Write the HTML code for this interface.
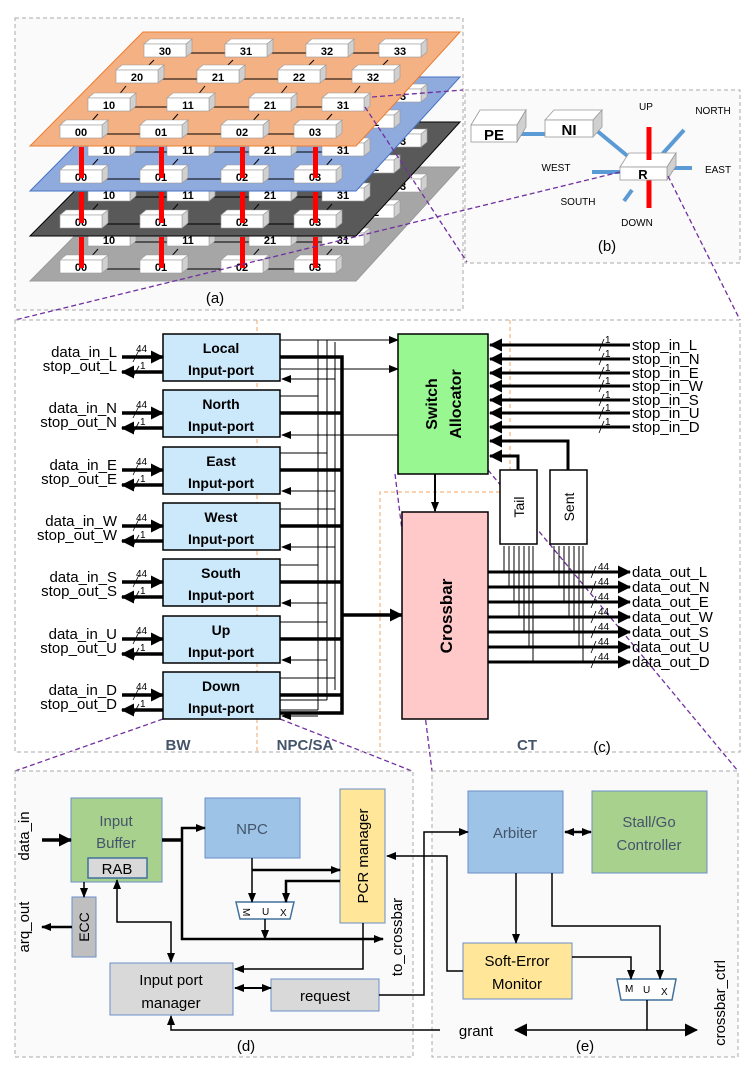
<!DOCTYPE html>
<html><head><meta charset="utf-8"><style>
html,body{margin:0;padding:0;background:#fff}
svg{display:block}
text{font-family:"Liberation Sans",sans-serif}
.n{font-size:11px;font-weight:bold;text-anchor:middle}
.l{font-size:15px;text-anchor:end}
.r{font-size:15px}
.s{font-size:10px}
.pt{font-size:14px;font-weight:bold;text-anchor:middle}
.g{fill:#44546a;font-size:15px;text-anchor:middle}
</style></head><body>
<svg width="747" height="1066" viewBox="0 0 747 1066" xmlns="http://www.w3.org/2000/svg">
<defs>
<marker id="a" markerUnits="userSpaceOnUse" markerWidth="10" markerHeight="10" refX="9" refY="5" orient="auto"><path d="M0,1 L10,5 L0,9 z"/></marker>
<marker id="A" markerUnits="userSpaceOnUse" markerWidth="13" markerHeight="13" refX="12" refY="6.5" orient="auto"><path d="M0,0 L13,6.5 L0,13 z"/></marker>
<marker id="as" markerUnits="userSpaceOnUse" markerWidth="10" markerHeight="10" refX="1" refY="5" orient="auto"><path d="M10,1 L0,5 L10,9 z"/></marker>
<g id="nd"><polygon points="0,5 6,0 48,0 42,5" fill="#fff" stroke="#999" stroke-width="0.6"/><polygon points="42,5 48,0 48,13 42,18" fill="#d0d0d0" stroke="#999" stroke-width="0.6"/><rect x="0" y="5" width="42" height="13" fill="#fff" stroke="#999" stroke-width="0.6"/></g>
<g id="ln" stroke="#000" stroke-width="1">
<line x1="102" y1="134" x2="140" y2="134"/><line x1="182" y1="134" x2="221" y2="134"/><line x1="263" y1="134" x2="294" y2="134"/>
<line x1="130" y1="107" x2="167" y2="107"/><line x1="209" y1="107" x2="249" y2="107"/><line x1="291" y1="107" x2="322" y2="107"/>
<line x1="158" y1="79" x2="197" y2="79"/><line x1="239" y1="79" x2="278" y2="79"/><line x1="320" y1="79" x2="352" y2="79"/>
<line x1="186" y1="53" x2="225" y2="53"/><line x1="267" y1="53" x2="306" y2="53"/><line x1="348" y1="53" x2="379" y2="53"/>
<line x1="90" y1="123" x2="98" y2="114"/><line x1="170" y1="123" x2="178" y2="114"/><line x1="251" y1="123" x2="259" y2="114"/><line x1="324" y1="123" x2="332" y2="114"/>
<line x1="118" y1="96" x2="126" y2="86"/><line x1="197" y1="96" x2="205" y2="86"/><line x1="279" y1="96" x2="287" y2="86"/><line x1="352" y1="96" x2="360" y2="86"/>
<line x1="146" y1="68" x2="154" y2="60"/><line x1="225" y1="68" x2="233" y2="60"/><line x1="306" y1="68" x2="314" y2="60"/><line x1="380" y1="68" x2="388" y2="60"/>
</g>
<g id="nodes">
<use href="#nd" x="144" y="39"/><use href="#nd" x="225" y="39"/><use href="#nd" x="306" y="39"/><use href="#nd" x="379" y="39"/>
<use href="#nd" x="116" y="65"/><use href="#nd" x="197" y="65"/><use href="#nd" x="278" y="65"/><use href="#nd" x="352" y="65"/>
<use href="#nd" x="88" y="93"/><use href="#nd" x="167" y="93"/><use href="#nd" x="249" y="93"/><use href="#nd" x="322" y="93"/>
<use href="#nd" x="60" y="120"/><use href="#nd" x="140" y="120"/><use href="#nd" x="221" y="120"/><use href="#nd" x="294" y="120"/>
</g>
</defs>

<rect x="15" y="18" width="448" height="292" fill="#fafafa" stroke="#aaa" stroke-dasharray="4,3"/>
<g transform="translate(0,135)"><polygon points="143,32 460,32 356,146 30,146" fill="#a6a6a6" stroke="#999"/><use href="#ln"/><use href="#nodes"/>
<text class="n" x="81" y="136">00</text><text class="n" x="161" y="136">01</text><text class="n" x="242" y="136">02</text><text class="n" x="315" y="136">03</text>
<text class="n" x="109" y="109">10</text><text class="n" x="188" y="109">11</text><text class="n" x="270" y="109">21</text><text class="n" x="343" y="109">31</text>
<text class="n" x="373" y="81">32</text><text class="n" x="400" y="55">33</text></g>
<g fill="#f00"><rect x="79" y="237" width="5" height="31"/><rect x="159" y="237" width="5" height="31"/><rect x="240" y="237" width="5" height="31"/><rect x="313" y="237" width="5" height="31"/></g>
<g transform="translate(0,90)"><polygon points="143,32 460,32 356,146 30,146" fill="#595959" stroke="#000"/><use href="#ln"/><use href="#nodes"/>
<text class="n" x="81" y="136">00</text><text class="n" x="161" y="136">01</text><text class="n" x="242" y="136">02</text><text class="n" x="315" y="136">03</text>
<text class="n" x="109" y="109">10</text><text class="n" x="188" y="109">11</text><text class="n" x="270" y="109">21</text><text class="n" x="343" y="109">31</text>
<text class="n" x="373" y="81">32</text><text class="n" x="400" y="55">33</text></g>
<g fill="#f00"><rect x="79" y="192" width="5" height="31"/><rect x="159" y="192" width="5" height="31"/><rect x="240" y="192" width="5" height="31"/><rect x="313" y="192" width="5" height="31"/></g>
<g transform="translate(0,45)"><polygon points="143,32 460,32 356,146 30,146" fill="#8faadc" stroke="#4472c4"/><use href="#ln"/><use href="#nodes"/>
<text class="n" x="81" y="136">00</text><text class="n" x="161" y="136">01</text><text class="n" x="242" y="136">02</text><text class="n" x="315" y="136">03</text>
<text class="n" x="109" y="109">10</text><text class="n" x="188" y="109">11</text><text class="n" x="270" y="109">21</text><text class="n" x="343" y="109">31</text>
<text class="n" x="373" y="81">32</text><text class="n" x="400" y="55">33</text></g>
<g fill="#f00"><rect x="79" y="147" width="5" height="31"/><rect x="159" y="147" width="5" height="31"/><rect x="240" y="147" width="5" height="31"/><rect x="313" y="147" width="5" height="31"/></g>
<g><polygon points="143,32 460,32 356,146 30,146" fill="#f4b183" stroke="#ed7d31"/><use href="#ln"/><use href="#nodes"/>
<text class="n" x="81" y="136">00</text><text class="n" x="161" y="136">01</text><text class="n" x="242" y="136">02</text><text class="n" x="315" y="136">03</text>
<text class="n" x="109" y="109">10</text><text class="n" x="188" y="109">11</text><text class="n" x="270" y="109">21</text><text class="n" x="343" y="109">31</text>
<text class="n" x="137" y="81">20</text><text class="n" x="218" y="81">21</text><text class="n" x="299" y="81">22</text><text class="n" x="373" y="81">32</text>
<text class="n" x="165" y="55">30</text><text class="n" x="246" y="55">31</text><text class="n" x="327" y="55">32</text><text class="n" x="400" y="55">33</text></g>
<text x="215" y="303" font-size="15" text-anchor="middle">(a)</text>

<rect x="465" y="90" width="275" height="173" fill="#fafafa" stroke="#aaa" stroke-dasharray="4,3"/>
<g stroke="#5b9bd5" stroke-width="4"><line x1="518" y1="134" x2="545" y2="134"/><line x1="596" y1="130" x2="630" y2="158"/><line x1="657" y1="160" x2="684" y2="130"/><line x1="632" y1="190" x2="624" y2="201"/><line x1="592" y1="172" x2="622" y2="172"/><line x1="667" y1="168" x2="692" y2="168"/></g>
<line x1="649" y1="127" x2="649" y2="208" stroke="#f00" stroke-width="5"/>
<g stroke="#999" stroke-width="0.8">
<polygon points="471,125 480,110 526,110 517,125" fill="#fff"/><polygon points="517,125 526,110 526,127 517,142" fill="#d0d0d0"/><rect x="471" y="125" width="46" height="17" fill="#fff"/>
<polygon points="545,120 554,110 602,110 593,120" fill="#fff"/><polygon points="593,120 602,110 602,127 593,137" fill="#d0d0d0"/><rect x="545" y="120" width="48" height="17" fill="#fff"/>
<polygon points="620,167 629,153 676,153 667,167" fill="#fff"/><polygon points="667,167 676,153 676,166 667,180" fill="#d0d0d0"/><rect x="620" y="167" width="47" height="13" fill="#fff"/>
</g>
<line x1="649" y1="152" x2="649" y2="160" stroke="#f00" stroke-width="5"/>
<text x="494" y="140" font-size="15" font-weight="bold" text-anchor="middle">PE</text>
<text x="569" y="135" font-size="15" font-weight="bold" text-anchor="middle">NI</text>
<text x="643" y="179" font-size="13" font-weight="bold" text-anchor="middle">R</text>
<g font-size="10" text-anchor="middle"><text x="646" y="110">UP</text><text x="713" y="114">NORTH</text><text x="556" y="171">WEST</text><text x="718" y="173">EAST</text><text x="578" y="205">SOUTH</text><text x="637" y="226">DOWN</text></g>
<text x="607" y="251" font-size="15" text-anchor="middle">(b)</text>

<g stroke="#7030a0" stroke-width="1.3" stroke-dasharray="5,3" fill="none">
<line x1="372" y1="97" x2="463" y2="90"/><line x1="365" y1="107" x2="467" y2="262"/>
<line x1="620" y1="172" x2="15" y2="320"/><line x1="668" y1="176" x2="740" y2="320"/>
<line x1="163" y1="719" x2="15" y2="771"/><line x1="280" y1="719" x2="412" y2="771"/>
<line x1="395" y1="474" x2="432" y2="771"/><line x1="488" y1="470" x2="738" y2="771"/>
</g>

<rect x="15" y="320" width="725" height="432" fill="none" stroke="#aaa" stroke-dasharray="4,3"/>
<g stroke="#f4a460" stroke-width="1" stroke-dasharray="4,3" fill="none">
<line x1="257" y1="320" x2="257" y2="752"/><polyline points="510,320 510,492 380,492 380,752"/></g>
<g stroke="#000" stroke-width="1" fill="none">
<line x1="318" y1="340" x2="318" y2="710"/><line x1="327" y1="340" x2="327" y2="700"/><line x1="335" y1="342" x2="335" y2="690"/>
<line x1="280" y1="340" x2="398" y2="340" marker-end="url(#a)"/>
<line x1="280" y1="369" x2="398" y2="369" marker-end="url(#a)"/>
<line x1="398" y1="435" x2="282" y2="435" marker-end="url(#a)"/>
<line x1="335" y1="379" x2="282" y2="379" marker-end="url(#a)"/>
<line x1="335" y1="491" x2="282" y2="491" marker-end="url(#a)"/><line x1="335" y1="547" x2="282" y2="547" marker-end="url(#a)"/>
<line x1="327" y1="603" x2="282" y2="603" marker-end="url(#a)"/><line x1="327" y1="660" x2="282" y2="660" marker-end="url(#a)"/>
<line x1="318" y1="716" x2="282" y2="716" marker-end="url(#a)"/>
<line x1="280" y1="396" x2="318" y2="396"/><line x1="280" y1="453" x2="327" y2="453"/><line x1="280" y1="509" x2="335" y2="509"/>
<line x1="280" y1="565" x2="318" y2="565"/><line x1="280" y1="622" x2="327" y2="622"/><line x1="280" y1="678" x2="335" y2="678"/>
<line x1="280" y1="700" x2="327" y2="700"/><line x1="280" y1="710" x2="318" y2="710"/>
</g>
<g stroke="#000" stroke-width="3.5" fill="none">
<polyline points="280,357 342,357 342,713 280,713"/>
<line x1="280" y1="413" x2="342" y2="413"/><line x1="280" y1="470" x2="342" y2="470"/><line x1="280" y1="526" x2="342" y2="526"/>
<line x1="280" y1="582" x2="342" y2="582"/><line x1="280" y1="639" x2="342" y2="639"/><line x1="280" y1="695" x2="342" y2="695"/>
<line x1="342" y1="615" x2="402" y2="615" marker-end="url(#A)"/>
</g>
<g stroke="#000" stroke-width="1.5" fill="#cce8fb">
<rect x="163" y="334" width="117" height="47"/><rect x="163" y="390" width="117" height="47"/><rect x="163" y="447" width="117" height="47"/><rect x="163" y="503" width="117" height="47"/><rect x="163" y="559" width="117" height="47"/><rect x="163" y="616" width="117" height="47"/><rect x="163" y="672" width="117" height="47"/></g>
<text x="221" y="353" class="pt">Local</text><text x="221" y="375" class="pt">Input-port</text>
<text x="221" y="409" class="pt">North</text><text x="221" y="431" class="pt">Input-port</text>
<text x="221" y="466" class="pt">East</text><text x="221" y="488" class="pt">Input-port</text>
<text x="221" y="522" class="pt">West</text><text x="221" y="544" class="pt">Input-port</text>
<text x="221" y="578" class="pt">South</text><text x="221" y="600" class="pt">Input-port</text>
<text x="221" y="635" class="pt">Up</text><text x="221" y="657" class="pt">Input-port</text>
<text x="221" y="691" class="pt">Down</text><text x="221" y="713" class="pt">Input-port</text>
<g stroke="#000" fill="none" stroke-width="3.5">
<line x1="122" y1="357" x2="163" y2="357" marker-end="url(#A)"/><line x1="163" y1="372" x2="122" y2="372" marker-end="url(#A)"/>
<line x1="122" y1="413" x2="163" y2="413" marker-end="url(#A)"/><line x1="163" y1="428" x2="122" y2="428" marker-end="url(#A)"/>
<line x1="122" y1="470" x2="163" y2="470" marker-end="url(#A)"/><line x1="163" y1="485" x2="122" y2="485" marker-end="url(#A)"/>
<line x1="122" y1="526" x2="163" y2="526" marker-end="url(#A)"/><line x1="163" y1="541" x2="122" y2="541" marker-end="url(#A)"/>
<line x1="122" y1="582" x2="163" y2="582" marker-end="url(#A)"/><line x1="163" y1="597" x2="122" y2="597" marker-end="url(#A)"/>
<line x1="122" y1="639" x2="163" y2="639" marker-end="url(#A)"/><line x1="163" y1="654" x2="122" y2="654" marker-end="url(#A)"/>
<line x1="122" y1="695" x2="163" y2="695" marker-end="url(#A)"/><line x1="163" y1="710" x2="122" y2="710" marker-end="url(#A)"/>
</g>
<g stroke="#000" stroke-width="0.8">
<line x1="133" y1="362" x2="139" y2="350"/><line x1="133" y1="377" x2="139" y2="366"/>
<line x1="133" y1="418" x2="139" y2="406"/><line x1="133" y1="433" x2="139" y2="422"/>
<line x1="133" y1="475" x2="139" y2="463"/><line x1="133" y1="490" x2="139" y2="479"/>
<line x1="133" y1="531" x2="139" y2="519"/><line x1="133" y1="546" x2="139" y2="535"/>
<line x1="133" y1="587" x2="139" y2="575"/><line x1="133" y1="602" x2="139" y2="591"/>
<line x1="133" y1="644" x2="139" y2="632"/><line x1="133" y1="659" x2="139" y2="648"/>
<line x1="133" y1="700" x2="139" y2="688"/><line x1="133" y1="715" x2="139" y2="704"/>
<line x1="599" y1="351" x2="604" y2="339"/><line x1="599" y1="365" x2="604" y2="353"/><line x1="599" y1="379" x2="604" y2="367"/><line x1="599" y1="392" x2="604" y2="380"/><line x1="599" y1="406" x2="604" y2="394"/><line x1="599" y1="419" x2="604" y2="407"/><line x1="599" y1="433" x2="604" y2="421"/>
<line x1="591" y1="578" x2="596" y2="566"/><line x1="591" y1="593" x2="596" y2="581"/><line x1="591" y1="608" x2="596" y2="596"/><line x1="591" y1="623" x2="596" y2="611"/><line x1="591" y1="638" x2="596" y2="626"/><line x1="591" y1="653" x2="596" y2="641"/><line x1="591" y1="668" x2="596" y2="656"/>
</g>
<text x="117" y="357" class="l">data_in_L</text><text x="117" y="371" class="l">stop_out_L</text>
<text x="117" y="413" class="l">data_in_N</text><text x="117" y="427" class="l">stop_out_N</text>
<text x="117" y="470" class="l">data_in_E</text><text x="117" y="484" class="l">stop_out_E</text>
<text x="117" y="526" class="l">data_in_W</text><text x="117" y="540" class="l">stop_out_W</text>
<text x="117" y="582" class="l">data_in_S</text><text x="117" y="596" class="l">stop_out_S</text>
<text x="117" y="639" class="l">data_in_U</text><text x="117" y="653" class="l">stop_out_U</text>
<text x="117" y="695" class="l">data_in_D</text><text x="117" y="709" class="l">stop_out_D</text>
<g class="s">
<text x="136" y="352">44</text><text x="140" y="369">1</text><text x="136" y="408">44</text><text x="140" y="425">1</text>
<text x="136" y="465">44</text><text x="140" y="482">1</text><text x="136" y="521">44</text><text x="140" y="538">1</text>
<text x="136" y="577">44</text><text x="140" y="594">1</text><text x="136" y="634">44</text><text x="140" y="651">1</text>
<text x="136" y="690">44</text><text x="140" y="707">1</text></g>
<rect x="398" y="334" width="90" height="140" fill="#99f792" stroke="#000" stroke-width="1.5"/>
<text transform="translate(437,404) rotate(-90)" font-size="16" font-weight="bold" text-anchor="middle">Switch</text>
<text transform="translate(461,404) rotate(-90)" font-size="16" font-weight="bold" text-anchor="middle">Allocator</text>
<line x1="435" y1="474" x2="435" y2="511" stroke="#000" stroke-width="2" marker-end="url(#a)"/>
<rect x="402" y="512" width="86" height="207" fill="#ffc9c9" stroke="#000" stroke-width="1.5"/>
<text transform="translate(452,616) rotate(-90)" font-size="17" font-weight="bold" text-anchor="middle">Crossbar</text>
<rect x="500" y="470" width="37" height="74" fill="#fff" stroke="#000" stroke-width="1.5"/>
<rect x="550" y="470" width="37" height="74" fill="#fff" stroke="#000" stroke-width="1.5"/>
<text transform="translate(524,507) rotate(-90)" font-size="14" text-anchor="middle">Tail</text>
<text transform="translate(574,507) rotate(-90)" font-size="14" text-anchor="middle">Sent</text>
<g stroke="#000" stroke-width="3" fill="none">
<polyline points="518,470 518,456 490,456" marker-end="url(#A)"/>
<polyline points="568,470 568,441 490,441" marker-end="url(#A)"/>
<line x1="630" y1="345" x2="490" y2="345" marker-end="url(#A)"/><line x1="630" y1="359" x2="490" y2="359" marker-end="url(#A)"/>
<line x1="630" y1="373" x2="490" y2="373" marker-end="url(#A)"/><line x1="630" y1="386" x2="490" y2="386" marker-end="url(#A)"/>
<line x1="630" y1="400" x2="490" y2="400" marker-end="url(#A)"/><line x1="630" y1="413" x2="490" y2="413" marker-end="url(#A)"/>
<line x1="630" y1="427" x2="490" y2="427" marker-end="url(#A)"/>
<line x1="488" y1="572" x2="630" y2="572" marker-end="url(#A)"/><line x1="488" y1="587" x2="630" y2="587" marker-end="url(#A)"/>
<line x1="488" y1="602" x2="630" y2="602" marker-end="url(#A)"/><line x1="488" y1="617" x2="630" y2="617" marker-end="url(#A)"/>
<line x1="488" y1="632" x2="630" y2="632" marker-end="url(#A)"/><line x1="488" y1="647" x2="630" y2="647" marker-end="url(#A)"/>
<line x1="488" y1="662" x2="630" y2="662" marker-end="url(#A)"/>
</g>
<g stroke="#000" stroke-width="1">
<line x1="504" y1="546" x2="504" y2="572"/><line x1="509" y1="546" x2="509" y2="587"/><line x1="514" y1="546" x2="514" y2="602"/><line x1="519" y1="546" x2="519" y2="617"/><line x1="524" y1="546" x2="524" y2="632"/><line x1="529" y1="546" x2="529" y2="647"/><line x1="533" y1="546" x2="533" y2="662"/>
<line x1="554" y1="546" x2="554" y2="572"/><line x1="559" y1="546" x2="559" y2="587"/><line x1="564" y1="546" x2="564" y2="602"/><line x1="569" y1="546" x2="569" y2="617"/><line x1="574" y1="546" x2="574" y2="632"/><line x1="579" y1="546" x2="579" y2="647"/><line x1="583" y1="546" x2="583" y2="662"/>
</g>
<g font-size="15">
<text x="632" y="350">stop_in_L</text><text x="632" y="364">stop_in_N</text><text x="632" y="378">stop_in_E</text><text x="632" y="391">stop_in_W</text><text x="632" y="405">stop_in_S</text><text x="632" y="418">stop_in_U</text><text x="632" y="432">stop_in_D</text>
<text x="632" y="577">data_out_L</text><text x="632" y="592">data_out_N</text><text x="632" y="607">data_out_E</text><text x="632" y="622">data_out_W</text><text x="632" y="637">data_out_S</text><text x="632" y="652">data_out_U</text><text x="632" y="667">data_out_D</text></g>
<g class="s">
<text x="605" y="343">1</text><text x="605" y="357">1</text><text x="605" y="371">1</text><text x="605" y="384">1</text><text x="605" y="398">1</text><text x="605" y="411">1</text><text x="605" y="425">1</text>
<text x="598" y="570">44</text><text x="598" y="585">44</text><text x="598" y="600">44</text><text x="598" y="615">44</text><text x="598" y="630">44</text><text x="598" y="645">44</text><text x="598" y="660">44</text></g>
<text x="178" y="750" class="g" font-weight="bold">BW</text>
<text x="305" y="750" class="g" font-weight="bold">NPC/SA</text>
<text x="527" y="750" class="g" font-weight="bold">CT</text>
<text x="602" y="752" font-size="15" text-anchor="middle">(c)</text>

<rect x="15" y="771" width="398" height="286" fill="#fafafa" stroke="#aaa" stroke-dasharray="4,3"/>
<rect x="432" y="771" width="306" height="286" fill="#fafafa" stroke="#aaa" stroke-dasharray="4,3"/>
<rect x="71" y="798" width="91" height="84" fill="#a9d18e" stroke="#6a8fc8"/>
<text x="116" y="826" class="g">Input</text><text x="116" y="848" class="g">Buffer</text>
<rect x="88" y="858" width="59" height="20" fill="#d9d9d9" stroke="#41719c" stroke-width="1.5"/>
<text x="117" y="874" font-size="15" text-anchor="middle">RAB</text>
<rect x="205" y="798" width="95" height="60" fill="#9dc3e6" stroke="#6a8fc8"/>
<text x="252" y="834" class="g">NPC</text>
<rect x="340" y="789" width="45" height="134" fill="#ffe699" stroke="#6a8fc8"/>
<text transform="translate(368,856) rotate(-90)" font-size="15" text-anchor="middle">PCR manager</text>
<polygon points="236,902 294,902 290,919 240,919" fill="#fff" stroke="#41719c" stroke-width="1.5"/>
<text x="244" y="915" font-size="10" transform="rotate(90,247,911)">M</text><text x="262" y="915" font-size="10">U</text><text x="280" y="916" font-size="10">X</text>
<rect x="72" y="897" width="24" height="60" fill="#bfbfbf" stroke="#6a8fc8"/>
<text transform="translate(89,927) rotate(-90)" font-size="14" text-anchor="middle">ECC</text>
<rect x="110" y="963" width="123" height="52" fill="#d9d9d9" stroke="#6a8fc8"/>
<text x="171" y="985" font-size="15" text-anchor="middle">Input port</text><text x="171" y="1008" font-size="15" text-anchor="middle">manager</text>
<rect x="271" y="979" width="108" height="32" fill="#d9d9d9" stroke="#6a8fc8"/>
<text x="325" y="1001" font-size="15" text-anchor="middle">request</text>
<rect x="468" y="791" width="95" height="82" fill="#9dc3e6" stroke="#6a8fc8"/>
<text x="515" y="838" class="g">Arbiter</text>
<rect x="592" y="791" width="115" height="82" fill="#a9d18e" stroke="#6a8fc8"/>
<text x="649" y="827" class="g">Stall/Go</text><text x="649" y="850" class="g">Controller</text>
<rect x="463" y="943" width="109" height="56" fill="#ffe699" stroke="#6a8fc8"/>
<text x="517" y="966" font-size="15" text-anchor="middle">Soft-Error</text><text x="517" y="989" font-size="15" text-anchor="middle">Monitor</text>
<polygon points="617,979 676,979 672,1000 621,1000" fill="#fff" stroke="#41719c" stroke-width="1.5"/>
<text x="625" y="992" font-size="10">M</text><text x="643" y="993" font-size="10">U</text><text x="661" y="995" font-size="10">X</text>
<g stroke="#000" fill="none" stroke-width="1.5">
<line x1="42" y1="840" x2="71" y2="840" stroke-width="3.5" marker-end="url(#A)"/>
<line x1="162" y1="840" x2="182" y2="840" stroke-width="3.5"/>
<polyline points="182,840 182,828 205,828" stroke-width="2.5" marker-end="url(#a)"/>
<polyline points="182,840 182,939 383,939" stroke-width="2.5" marker-end="url(#a)"/>
<line x1="252" y1="858" x2="252" y2="902" marker-end="url(#a)"/>
<line x1="252" y1="870" x2="340" y2="870" stroke-width="2.5" marker-end="url(#a)"/>
<polyline points="340,881 286,881 286,902" stroke-width="2.5" marker-end="url(#a)"/>
<line x1="265" y1="919" x2="265" y2="939" marker-end="url(#a)"/>
<polyline points="363,923 363,969 235,969" marker-end="url(#a)"/>
<line x1="84" y1="882" x2="84" y2="897" marker-end="url(#a)"/>
<line x1="72" y1="927" x2="42" y2="927" stroke-width="2.5" marker-end="url(#a)"/>
<polyline points="117,880 117,922 171,922 171,962" marker-start="url(#as)" marker-end="url(#a)"/>
<line x1="235" y1="988" x2="271" y2="988" stroke-width="2" marker-start="url(#as)" marker-end="url(#a)"/>
<polyline points="379,995 424,995 424,832 468,832" marker-end="url(#a)"/>
<polyline points="463,971 447,971 447,856 387,856" marker-end="url(#a)"/>
<line x1="565" y1="832" x2="591" y2="832" stroke-width="2.5" marker-start="url(#as)" marker-end="url(#a)"/>
<line x1="516" y1="873" x2="516" y2="943" marker-end="url(#a)"/>
<polyline points="552,873 552,926 660,926 660,979" marker-end="url(#a)"/>
<polyline points="572,957 631,957 631,979" marker-end="url(#a)"/>
<polyline points="647,1000 647,1030 697,1030" marker-end="url(#A)"/>
<line x1="647" y1="1030" x2="515" y2="1030" marker-end="url(#A)"/>
<polyline points="440,1030 171,1030 171,1016" marker-end="url(#a)"/>
</g>
<text transform="translate(29,836) rotate(-90)" font-size="15" text-anchor="middle">data_in</text>
<text transform="translate(29,927) rotate(-90)" font-size="15" text-anchor="middle">arq_out</text>
<text transform="translate(402,937) rotate(-90)" font-size="15" text-anchor="middle">to_crossbar</text>
<text transform="translate(725,1003) rotate(-90)" font-size="15" text-anchor="middle">crossbar_ctrl</text>
<text x="476" y="1036" font-size="15" text-anchor="middle">grant</text>
<text x="246" y="1051" font-size="15" text-anchor="middle">(d)</text>
<text x="585" y="1051" font-size="15" text-anchor="middle">(e)</text>
</svg>
</body></html>
